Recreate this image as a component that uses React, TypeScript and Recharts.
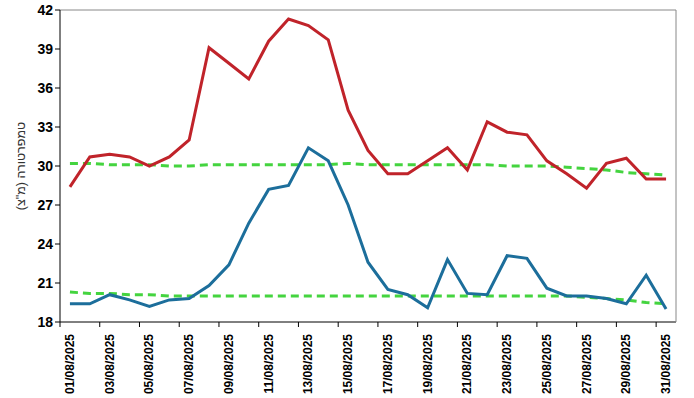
import { LineChart, Line, XAxis, YAxis } from 'recharts';

const dates = [
  '01/08/2025', '02/08/2025', '03/08/2025', '04/08/2025', '05/08/2025', '06/08/2025', '07/08/2025', '08/08/2025',
  '09/08/2025', '10/08/2025', '11/08/2025', '12/08/2025', '13/08/2025', '14/08/2025', '15/08/2025', '16/08/2025',
  '17/08/2025', '18/08/2025', '19/08/2025', '20/08/2025', '21/08/2025', '22/08/2025', '23/08/2025', '24/08/2025',
  '25/08/2025', '26/08/2025', '27/08/2025', '28/08/2025', '29/08/2025', '30/08/2025', '31/08/2025',
];

const maxTemp = [
  28.4, 30.7, 30.9, 30.7, 30.0, 30.7, 32.0, 39.1, 37.9, 36.7, 39.6, 41.3, 40.8, 39.7, 34.3, 31.2,
  29.4, 29.4, 30.4, 31.4, 29.7, 33.4, 32.6, 32.4, 30.4, 29.4, 28.3, 30.2, 30.6, 29.0, 29.0,
];

const minTemp = [
  19.4, 19.4, 20.1, 19.7, 19.2, 19.7, 19.8, 20.8, 22.4, 25.6, 28.2, 28.5, 31.4, 30.4, 27.0, 22.6,
  20.5, 20.1, 19.1, 22.8, 20.2, 20.1, 23.1, 22.9, 20.6, 20.0, 20.0, 19.8, 19.4, 21.6, 19.0,
];

const normMax = [
  30.2, 30.2, 30.1, 30.1, 30.1, 30.0, 30.0, 30.1, 30.1, 30.1, 30.1, 30.1, 30.1, 30.1, 30.2, 30.1,
  30.1, 30.1, 30.1, 30.1, 30.1, 30.1, 30.0, 30.0, 30.0, 29.9, 29.8, 29.7, 29.5, 29.4, 29.3,
];

const normMin = [
  20.3, 20.2, 20.2, 20.1, 20.1, 20.0, 20.0, 20.0, 20.0, 20.0, 20.0, 20.0, 20.0, 20.0, 20.0, 20.0,
  20.0, 20.0, 20.0, 20.0, 20.0, 20.0, 20.0, 20.0, 20.0, 20.0, 19.9, 19.8, 19.7, 19.5, 19.4,
];

const yTicks = [18, 21, 24, 27, 30, 33, 36, 39, 42];

const data = dates.map((d, i) => ({
  date: d,
  max: maxTemp[i],
  min: minTemp[i],
  nmax: normMax[i],
  nmin: normMin[i],
}));

const HALF_STEP = 616 / 31 / 2;

function DateTick(props: any) {
  const { x, y, payload } = props;
  return (
    <g>
      <line x1={x - HALF_STEP} y1={y - 8} x2={x - HALF_STEP} y2={y - 3} stroke="#000" />
      <text
        x={x}
        y={y}
        transform={`rotate(-90, ${x}, ${y})`}
        dx={-4}
        dy={4}
        textAnchor="end"
        fontSize={12}
        fontWeight="bold"
        fontFamily="Arial, 'Liberation Sans', sans-serif"
        fill="#000"
      >
        {payload.value}
      </text>
    </g>
  );
}

function YLabel() {
  return (
    <text
      x={22}
      y={166}
      transform="rotate(-90, 22, 166)"
      textAnchor="middle"
      dominantBaseline="middle"
      fontSize={12.5}
      fontFamily="Arial, 'Liberation Sans', sans-serif"
      fill="#333"
    >
      טמפרטורה (מ"צ)
    </text>
  );
}

export default function App() {
  return (
    <div style={{ position: 'absolute', left: 0, top: 0, width: 694, height: 398, background: '#fff' }}>
      <LineChart width={694} height={398} data={data} margin={{ top: 9, right: 17, bottom: 0, left: 20 }}>
        <XAxis
          dataKey="date"
          interval={1}
          padding={{ left: HALF_STEP, right: HALF_STEP }}
          height={76}
          tickLine={false}
          axisLine={{ stroke: '#000' }}
          tick={<DateTick />}
        />
        <XAxis xAxisId="top" dataKey="date" orientation="top" height={1} tick={false} tickLine={false} axisLine={{ stroke: '#888' }} />
        <YAxis
          domain={[18, 42]}
          ticks={yTicks}
          width={40}
          interval={0}
          tickSize={5}
          tickLine={{ stroke: '#000' }}
          axisLine={{ stroke: '#000' }}
          tick={{ fontSize: 14, fontWeight: 'bold', fill: '#000', fontFamily: "Arial, 'Liberation Sans', sans-serif" }}
          label={<YLabel />}
        />
        <YAxis yAxisId="right" orientation="right" domain={[18, 42]} width={1} tick={false} tickLine={false} axisLine={{ stroke: '#888' }} />
        <Line dataKey="nmax" stroke="#44d43f" strokeWidth={3} strokeDasharray="8 5" dot={false} isAnimationActive={false} />
        <Line dataKey="nmin" stroke="#44d43f" strokeWidth={3} strokeDasharray="8 5" dot={false} isAnimationActive={false} />
        <Line dataKey="max" stroke="#c0232a" strokeWidth={3} dot={false} isAnimationActive={false} />
        <Line dataKey="min" stroke="#1c6e9b" strokeWidth={3} dot={false} isAnimationActive={false} />
      </LineChart>
    </div>
  );
}
